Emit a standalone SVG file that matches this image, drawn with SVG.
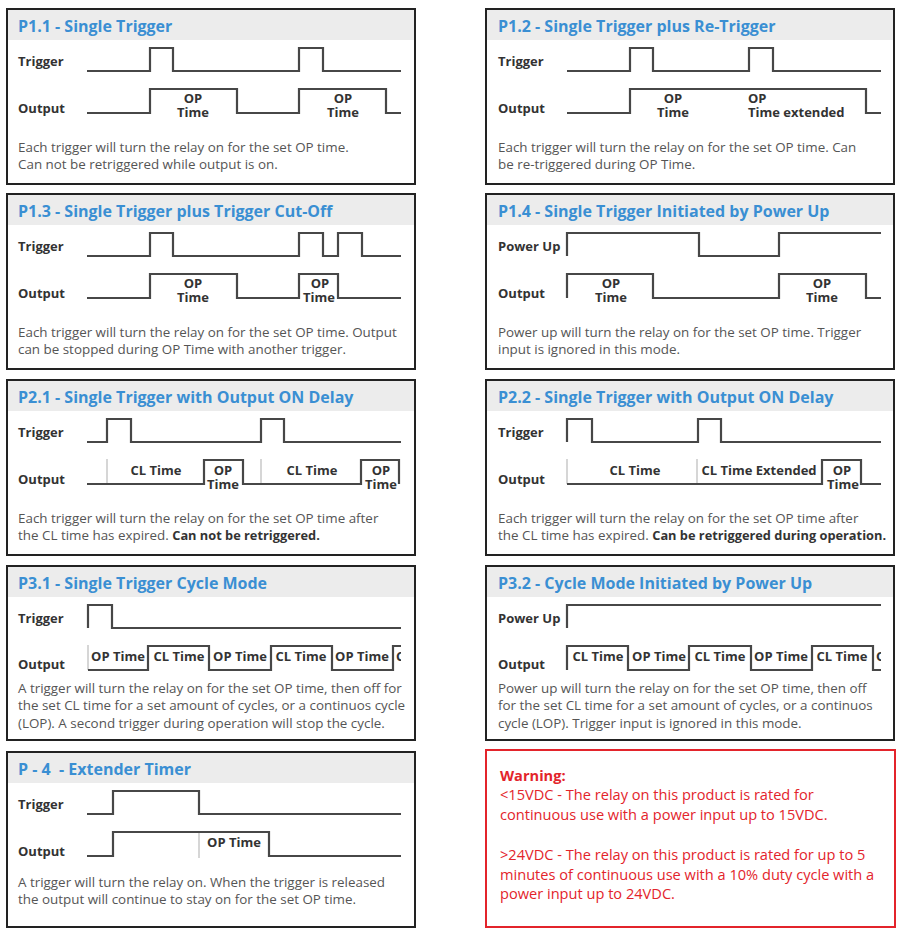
<svg xmlns="http://www.w3.org/2000/svg" width="900" height="934" viewBox="0 0 900 934">
<style>
.box{fill:#fff;stroke:#222;stroke-width:2}
.hdr{fill:#ececec}
.title{font-family:"Open Sans","Liberation Sans",sans-serif;font-weight:700;font-size:16px;fill:#3a8fd3}
.lbl{font-family:"Open Sans","Liberation Sans",sans-serif;font-weight:700;font-size:13px;fill:#333}
.tl{font-family:"Open Sans","Liberation Sans",sans-serif;font-weight:700;font-size:13px;fill:#333}
.tm{font-family:"Open Sans","Liberation Sans",sans-serif;font-weight:700;font-size:13px;fill:#333;text-anchor:middle}
.desc{font-family:"Open Sans","Liberation Sans",sans-serif;font-size:13.4px;fill:#555}
.desc .b{font-weight:700;fill:#333;font-size:12.8px}
.wave{fill:none;stroke:#474747;stroke-width:2.2;stroke-linejoin:miter}
.div{stroke:#c8c8c8;stroke-width:1.5}
.warnbox{fill:#fff;stroke:#e3242b;stroke-width:2}
.warn{font-family:"Open Sans","Liberation Sans",sans-serif;font-size:14.6px;fill:#e3242b}
.warn .b{font-weight:700}
</style>
<defs>
<clipPath id="clipL"><rect x="390" y="640" width="11" height="30"/></clipPath>
<clipPath id="clipR"><rect x="870" y="640" width="11" height="30"/></clipPath>
</defs>

<g id="p1-1">
<rect class="box" x="7" y="9" width="408" height="175"/>
<rect class="hdr" x="8" y="10" width="406" height="30"/>
<text class="title" x="18" y="32">P1.1 - Single Trigger</text>
<text class="lbl" x="18" y="66">Trigger</text>
<text class="lbl" x="18" y="113">Output</text>
<path class="wave" d="M87,71 H150 V48 H173 V71 H299 V48 H323 V71 H401"/>
<path class="wave" d="M87,113 H150 V89 H237 V113 H299 V89 H386 V113 H401"/>
<text class="tm" x="193" y="103">OP</text><text class="tm" x="193" y="117">Time</text>
<text class="tm" x="343" y="103">OP</text><text class="tm" x="343" y="117">Time</text>
<text class="desc" x="18" y="152">Each trigger will turn the relay on for the set OP time.</text>
<text class="desc" x="18" y="169">Can not be retriggered while output is on.</text>
</g>

<g id="p1-2">
<rect class="box" x="486" y="9" width="408" height="175"/>
<rect class="hdr" x="487" y="10" width="406" height="30"/>
<text class="title" x="498" y="32">P1.2 - Single Trigger plus Re-Trigger</text>
<text class="lbl" x="498" y="66">Trigger</text>
<text class="lbl" x="498" y="113">Output</text>
<path class="wave" d="M567,71 H630 V48 H653 V71 H749 V48 H773 V71 H881"/>
<path class="wave" d="M567,113 H630 V89 H866 V113 H881"/>
<text class="tm" x="673" y="103">OP</text><text class="tm" x="673" y="117">Time</text>
<text class="tl" x="748" y="103">OP</text><text class="tl" x="748" y="117">Time extended</text>
<text class="desc" x="498" y="152">Each trigger will turn the relay on for the set OP time. Can</text>
<text class="desc" x="498" y="169">be re-triggered during OP Time.</text>
</g>

<g id="p1-3">
<rect class="box" x="7" y="194" width="408" height="175"/>
<rect class="hdr" x="8" y="195" width="406" height="30"/>
<text class="title" x="18" y="217">P1.3 - Single Trigger plus Trigger Cut-Off</text>
<text class="lbl" x="18" y="251">Trigger</text>
<text class="lbl" x="18" y="298">Output</text>
<path class="wave" d="M87,256 H150 V233 H173 V256 H299 V233 H323 V256 H338 V233 H362 V256 H401"/>
<path class="wave" d="M87,298 H150 V274 H237 V298 H299 V274 H338 V298 H401"/>
<text class="tm" x="193" y="288">OP</text><text class="tm" x="193" y="302">Time</text>
<text class="tm" x="320" y="288">OP</text><text class="tm" x="319" y="302">Time</text>
<text class="desc" x="18" y="337">Each trigger will turn the relay on for the set OP time. Output</text>
<text class="desc" x="18" y="354">can be stopped during OP Time with another trigger.</text>
</g>

<g id="p1-4">
<rect class="box" x="486" y="194" width="408" height="175"/>
<rect class="hdr" x="487" y="195" width="406" height="30"/>
<text class="title" x="498" y="217">P1.4 - Single Trigger Initiated by Power Up</text>
<text class="lbl" x="498" y="251">Power Up</text>
<text class="lbl" x="498" y="298">Output</text>
<path class="wave" d="M567,256 V233 H699 V256 H779 V233 H881"/>
<path class="wave" d="M567,298 V274 H653 V298 H779 V274 H866 V298 H881"/>
<text class="tm" x="611" y="288">OP</text><text class="tm" x="611" y="302">Time</text>
<text class="tm" x="822" y="288">OP</text><text class="tm" x="822" y="302">Time</text>
<text class="desc" x="498" y="337">Power up will turn the relay on for the set OP time. Trigger</text>
<text class="desc" x="498" y="354">input is ignored in this mode.</text>
</g>

<g id="p2-1">
<rect class="box" x="7" y="380" width="408" height="175"/>
<rect class="hdr" x="8" y="381" width="406" height="30"/>
<text class="title" x="18" y="403">P2.1 - Single Trigger with Output ON Delay</text>
<text class="lbl" x="18" y="437">Trigger</text>
<text class="lbl" x="18" y="484">Output</text>
<line class="div" x1="107" y1="459" x2="107" y2="484"/>
<line class="div" x1="261" y1="459" x2="261" y2="484"/>
<path class="wave" d="M87,442 H107 V419 H131 V442 H261 V419 H284 V442 H401"/>
<path class="wave" d="M87,484 H204 V460 H243 V484 H361 V460 H399 V484"/>
<text class="tm" x="156" y="475">CL Time</text>
<text class="tm" x="223" y="475">OP</text><text class="tm" x="223" y="489">Time</text>
<text class="tm" x="312" y="475">CL Time</text>
<text class="tm" x="381" y="475">OP</text><text class="tm" x="381" y="489">Time</text>
<text class="desc" x="18" y="523">Each trigger will turn the relay on for the set OP time after</text>
<text class="desc" x="18" y="540">the CL time has expired. <tspan class="b">Can not be retriggered.</tspan></text>
</g>

<g id="p2-2">
<rect class="box" x="486" y="380" width="408" height="175"/>
<rect class="hdr" x="487" y="381" width="406" height="30"/>
<text class="title" x="498" y="403">P2.2 - Single Trigger with Output ON Delay</text>
<text class="lbl" x="498" y="437">Trigger</text>
<text class="lbl" x="498" y="484">Output</text>
<line class="div" x1="567" y1="459" x2="567" y2="484"/>
<line class="div" x1="697" y1="459" x2="697" y2="484"/>
<path class="wave" d="M567,442 V419 H592 V442 H698 V419 H721 V442 H881"/>
<path class="wave" d="M567,484 H822 V460 H861 V484 H881"/>
<text class="tm" x="635" y="475">CL Time</text>
<text class="tm" x="759" y="475">CL Time Extended</text>
<text class="tm" x="842" y="475">OP</text><text class="tm" x="843" y="489">Time</text>
<text class="desc" x="498" y="523">Each trigger will turn the relay on for the set OP time after</text>
<text class="desc" x="498" y="540">the CL time has expired. <tspan class="b">Can be retriggered during operation.</tspan></text>
</g>

<g id="p3-1">
<rect class="box" x="7" y="566" width="408" height="174"/>
<rect class="hdr" x="8" y="567" width="406" height="30"/>
<text class="title" x="18" y="589">P3.1 - Single Trigger Cycle Mode</text>
<text class="lbl" x="18" y="669">Output</text>
<text class="lbl" x="18" y="623">Trigger</text>
<line class="div" x1="88" y1="645" x2="88" y2="670"/>
<path class="wave" d="M88,628 V605 H112 V628 H401"/>
<path class="wave" d="M88,670 H148 V646 H209 V670 H271 V646 H332 V670 H393 V646 H401"/>
<text class="tm" x="118" y="661">OP Time</text>
<text class="tm" x="179" y="661">CL Time</text>
<text class="tm" x="240" y="661">OP Time</text>
<text class="tm" x="301" y="661">CL Time</text>
<text class="tm" x="362" y="661">OP Time</text>
<text class="tl" x="396" y="661" clip-path="url(#clipL)">C</text>
<text class="desc" x="18" y="693">A trigger will turn the relay on for the set OP time, then off for</text>
<text class="desc" x="18" y="710">the set CL time for a set amount of cycles, or a continuos cycle</text>
<text class="desc" x="18" y="728">(LOP). A second trigger during operation will stop the cycle.</text>
</g>

<g id="p3-2">
<rect class="box" x="486" y="566" width="408" height="174"/>
<rect class="hdr" x="487" y="567" width="406" height="30"/>
<text class="title" x="498" y="589">P3.2 - Cycle Mode Initiated by Power Up</text>
<text class="lbl" x="498" y="623">Power Up</text>
<text class="lbl" x="498" y="669">Output</text>
<path class="wave" d="M567,628 V605 H881"/>
<path class="wave" d="M567,670 V646 H628 V670 H689 V646 H751 V670 H812 V646 H873 V670 H881"/>
<text class="tm" x="598" y="661">CL Time</text>
<text class="tm" x="659" y="661">OP Time</text>
<text class="tm" x="720" y="661">CL Time</text>
<text class="tm" x="781" y="661">OP Time</text>
<text class="tm" x="842" y="661">CL Time</text>
<text class="tl" x="876" y="661" clip-path="url(#clipR)">O</text>
<text class="desc" x="498" y="693">Power up will turn the relay on for the set OP time, then off</text>
<text class="desc" x="498" y="710">for the set CL time for a set amount of cycles, or a continuos</text>
<text class="desc" x="498" y="728">cycle (LOP). Trigger input is ignored in this mode.</text>
</g>

<g id="p4">
<rect class="box" x="7" y="752" width="408" height="175"/>
<rect class="hdr" x="8" y="753" width="406" height="30"/>
<text class="title" x="18" y="775" xml:space="preserve">P - 4  - Extender Timer</text>
<text class="lbl" x="18" y="809">Trigger</text>
<text class="lbl" x="18" y="856">Output</text>
<line class="div" x1="199" y1="832" x2="199" y2="858"/>
<path class="wave" d="M87,814 H113 V791 H199 V814 H401"/>
<path class="wave" d="M87,856 H113 V832 H269 V856 H401"/>
<text class="tm" x="234" y="847">OP Time</text>
<text class="desc" x="18" y="887">A trigger will turn the relay on. When the trigger is released</text>
<text class="desc" x="18" y="904">the output will continue to stay on for the set OP time.</text>
</g>

<g id="warning">
<rect class="warnbox" x="486" y="750" width="409" height="177"/>
<text class="warn" x="500" y="781"><tspan class="b">Warning:</tspan></text>
<text class="warn" x="500" y="800">&lt;15VDC - The relay on this product is rated for</text>
<text class="warn" x="500" y="820">continuous use with a power input up to 15VDC.</text>
<text class="warn" x="500" y="860">&gt;24VDC - The relay on this product is rated for up to 5</text>
<text class="warn" x="500" y="880">minutes of continuous use with a 10% duty cycle with a</text>
<text class="warn" x="500" y="899">power input up to 24VDC.</text>
</g>

<g id="connectors"/>
</svg>
